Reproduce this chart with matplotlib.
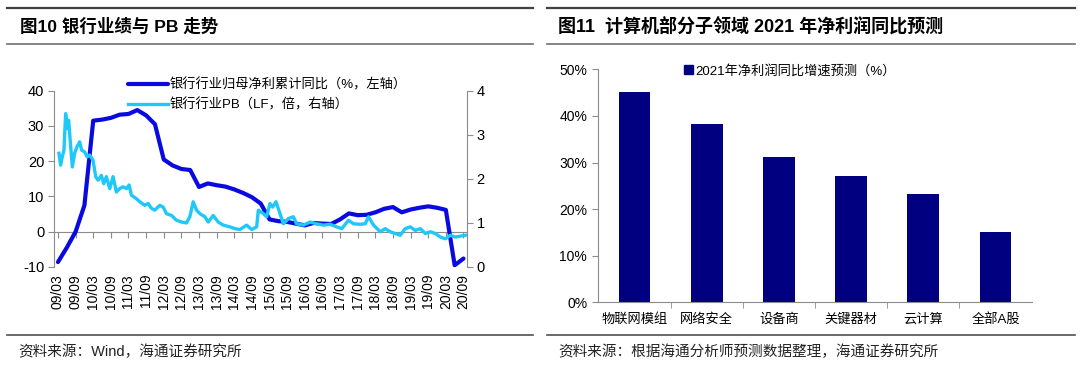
#!/usr/bin/env python3
"""Bank earnings vs PB (left) and 2021 profit growth forecast by sub-sector (right)."""

import matplotlib

matplotlib.use("Agg")
import matplotlib.pyplot as plt
import numpy as np
from matplotlib.lines import Line2D
from matplotlib.patches import Patch

plt.rcParams["font.family"] = ["Liberation Sans", "Noto Sans CJK SC"]
plt.rcParams["axes.unicode_minus"] = False

# ---- left panel data (quarter index 0 = 09/03) ----
quarter_labels = [
    "09/03", "09/09", "10/03", "10/09", "11/03", "11/09", "12/03", "12/09",
    "13/03", "13/09", "14/03", "14/09", "15/03", "15/09", "16/03", "16/09",
    "17/03", "17/09", "18/03", "18/09", "19/03", "19/09", "20/03", "20/09",
]
profit_yoy = [
    -8.6, -4.5, 0.0, 7.5, 31.5, 31.8, 32.3, 33.2, 33.4, 34.5, 33.0, 30.5,
    20.5, 18.8, 17.8, 17.5, 12.7, 13.7, 13.2, 12.8, 12.0, 11.0, 9.8, 8.0,
    3.5, 3.0, 2.8, 2.3, 1.8, 2.5, 2.3, 2.2, 3.5, 5.2, 4.7, 4.8,
    5.5, 6.5, 7.0, 5.5, 6.3, 6.8, 7.2, 6.8, 6.2, -9.5, -7.6,
]
pb_quarter = [
    0.11, 0.30, 0.49, 0.68, 0.87, 1.06, 1.21, 1.40, 1.63, 1.89, 2.16, 2.46,
    2.69, 3.03, 3.30, 3.60, 3.98, 4.28, 4.55, 4.92, 5.19, 5.49, 5.87, 6.25,
    6.63, 7.01, 7.39, 7.77, 8.07, 8.33, 8.90, 9.28, 9.85, 10.23, 10.61, 10.98,
    11.55, 11.93, 12.31, 12.88, 13.45, 14.02, 14.58, 14.96, 15.34, 15.72, 16.10, 16.67,
    17.05, 17.61, 18.18, 18.75, 19.51, 20.08, 20.64, 21.40, 21.97, 22.54, 22.73, 23.30,
    23.67, 24.05, 24.36, 24.73, 25.19, 25.57, 26.14, 26.70, 27.08, 27.84, 28.60, 29.36,
    30.11, 30.87, 31.63, 32.20, 32.95, 33.52, 34.28, 34.85, 35.23, 35.80, 36.55, 37.12,
    37.69, 38.26, 38.83, 39.39, 39.96, 40.53, 41.10, 41.67, 42.23, 42.80, 43.37, 43.94,
    44.51, 45.08, 45.64, 46.21,
]
pb_value = [
    2.58, 2.31, 2.50, 2.65, 3.48, 3.14, 3.33, 2.84, 2.27, 2.58, 2.73, 2.84,
    2.65, 2.61, 2.50, 2.54, 2.42, 2.05, 1.97, 2.08, 1.89, 2.05, 1.78, 2.05,
    1.70, 1.78, 1.82, 1.78, 1.86, 1.63, 1.55, 1.48, 1.40, 1.44, 1.33, 1.29,
    1.40, 1.36, 1.21, 1.17, 1.06, 1.02, 1.00, 1.14, 1.48, 1.29, 1.21, 1.14,
    1.02, 1.17, 1.02, 0.95, 0.91, 0.87, 0.85, 0.95, 0.85, 0.91, 1.29, 1.21,
    1.14, 1.44, 1.36, 1.48, 1.21, 0.98, 1.10, 1.14, 0.98, 0.95, 1.02, 0.98,
    0.95, 0.97, 0.91, 0.87, 1.06, 0.98, 0.97, 0.98, 1.14, 0.95, 0.80, 0.87,
    0.80, 0.76, 0.72, 0.87, 0.91, 0.83, 0.87, 0.76, 0.80, 0.76, 0.68, 0.64,
    0.72, 0.68, 0.70, 0.72,
]

# ---- right panel data ----
sectors = ["物联网模组", "网络安全", "设备商", "关键器材", "云计算", "全部A股"]
growth_2021 = [45.2, 38.3, 31.2, 27.1, 23.2, 15.0]

W, H = 1080, 365
fig = plt.figure(figsize=(W / 100, H / 100), dpi=100)


def hline(x0, x1, y, lw, color):
    fig.add_artist(Line2D([x0 / W, x1 / W], [1 - y / H, 1 - y / H],
                          transform=fig.transFigure, lw=lw, color=color))


def box(x0, y0, x1, y1):
    return [x0 / W, 1 - y1 / H, (x1 - x0) / W, (y1 - y0) / H]


# frame lines, titles and sources
for a, b in [(7, 533), (547, 1075)]:
    hline(a, b, 8, 1.6, "#404040")
    hline(a, b, 44, 1.2, "#707070")
    hline(a, b, 335, 1.2, "#505050")
fig.text(20 / W, 1 - 26 / H, "图10 银行业绩与 PB 走势", fontsize=12.6, fontweight="bold", va="center")
fig.text(558 / W, 1 - 26 / H, "图11  计算机部分子领域 2021 年净利润同比预测", fontsize=13,
         fontweight="bold", va="center")
fig.text(18 / W, 1 - 352 / H, "资料来源：Wind，海通证券研究所", fontsize=10.5, va="center", color="#222222")
fig.text(558 / W, 1 - 352 / H, "资料来源：根据海通分析师预测数据整理，海通证券研究所", fontsize=10.5,
         va="center", color="#222222")

axis_gray = "#8c8c8c"

# ---- left chart ----
ax = fig.add_axes(box(54, 90.7, 467, 267))
axr = ax.twinx()
x_q = np.arange(len(profit_yoy))
l1, = ax.plot(x_q, profit_yoy, color="#0a0ae0", lw=3.0, solid_capstyle="round", zorder=3)
l2, = axr.plot(pb_quarter, pb_value, color="#1ec8f8", lw=2.4, zorder=3)

ax.set_xlim(-0.45, 46.4)
ax.set_ylim(-10, 40)
ax.set_yticks(range(-10, 41, 10))
axr.set_ylim(0, 4)
axr.set_yticks(range(0, 5))
ax.set_xticks(range(0, 47, 2))
ax.set_xticklabels(quarter_labels)

for s in ["bottom", "right"]:
    ax.spines[s].set_visible(False)
for s in ["top", "bottom", "left"]:
    axr.spines[s].set_visible(False)
ax.spines["top"].set_position(("data", 0))
ax.spines["top"].set_color(axis_gray)
ax.spines["left"].set_color(axis_gray)
axr.spines["right"].set_color(axis_gray)
ax.tick_params(axis="x", top=True, bottom=False, labeltop=False, labelbottom=True,
               direction="in", length=4, color=axis_gray, labelsize=10, pad=5,
               labelrotation=90)
ax.tick_params(axis="y", length=4, color=axis_gray, labelsize=10.5, pad=3)
axr.tick_params(axis="y", length=4, color=axis_gray, labelsize=10.5, pad=3)

fig.legend([l1, l2], ["银行行业归母净利累计同比（%，左轴）", "银行行业PB（LF，倍，右轴）"],
           loc="center left", bbox_to_anchor=(128 / W, 1 - 95 / H), frameon=False,
           fontsize=9.5, handlelength=3.0, handletextpad=0.15, labelspacing=0.55,
           borderpad=0, borderaxespad=0)

# ---- right chart ----
bx = fig.add_axes(box(598.3, 69.3, 1031.7, 302.3))
pos = np.arange(len(sectors))
bx.bar(pos, growth_2021, width=0.44, color="#000080", zorder=2)
bx.set_xlim(-0.5, len(sectors) - 0.5)
bx.set_ylim(0, 50)
bx.set_yticks(range(0, 51, 10))
bx.set_yticklabels([f"{v}%" for v in range(0, 51, 10)])
bx.set_xticks(pos)
bx.set_xticklabels(sectors)
bx.set_xticks(pos[:-1] + 0.5, minor=True)
for s in ["top", "right"]:
    bx.spines[s].set_visible(False)
bx.spines["left"].set_color(axis_gray)
bx.spines["bottom"].set_color(axis_gray)
bx.tick_params(axis="x", which="major", length=0, labelsize=9.5, pad=8)
bx.tick_params(axis="x", which="minor", length=4, color=axis_gray)
bx.tick_params(axis="y", length=4, color=axis_gray, labelsize=10, pad=4)

bx.legend([Patch(color="#000080")], ["2021年净利润同比增速预测（%）"], loc="center left",
          bbox_to_anchor=(684 / W, 1 - 71 / H), bbox_transform=fig.transFigure,
          frameon=False, fontsize=9.5, handlelength=0.7, handleheight=0.7,
          handletextpad=0.15, borderpad=0, borderaxespad=0)

fig.savefig("out.png", dpi=100)
